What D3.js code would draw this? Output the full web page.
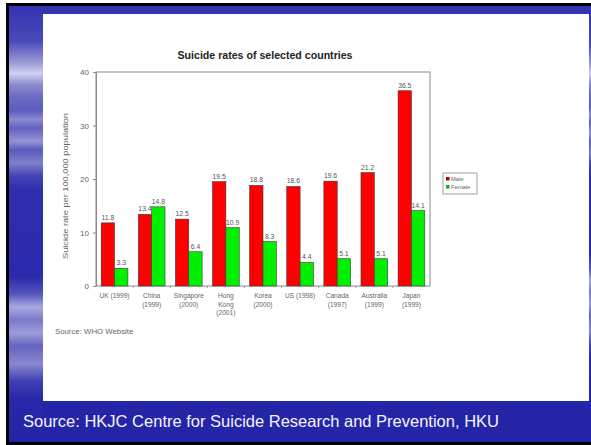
<!DOCTYPE html>
<html><head><meta charset="utf-8">
<script src="https://cdn.jsdelivr.net/npm/d3@7"></script>
<style>html,body{margin:0;padding:0;background:#fff;}svg{display:block;}</style>
</head><body>
<svg id="c" width="591" height="445"></svg>
<script>
const categories = [["UK (1999)"],["China","(1999)"],["Singapore","(2000)"],["Hong","Kong","(2001)"],["Korea","(2000)"],["US (1998)"],["Canada","(1997)"],["Australia","(1999)"],["Japan","(1999)"]];
const seriesNames = ["Male","Female"];
const maleValues = [11.8,13.4,12.5,19.5,18.8,18.6,19.6,21.2,36.5];
const femaleValues = [3.3,14.8,6.4,10.9,8.3,4.4,5.1,5.1,14.1];
const yTicks = [0,10,20,30,40];
const seriesColors = ["#ff0000","#00f000"];
const legendColors = ["#b00010","#10b020"];

const svg = d3.select("#c");
const defs = svg.append("defs");
const font = "'Liberation Sans', Arial, sans-serif";

// background frame
svg.append("rect").attr("x",0).attr("y",0).attr("width",591).attr("height",445).attr("fill","#fff");
svg.append("rect").attr("x",6).attr("y",3).attr("width",585).attr("height",442).attr("fill","#000");
const bg = defs.append("linearGradient").attr("id","bg").attr("x1",0).attr("y1",0).attr("x2",0).attr("y2",1);
[[0,"#3535b2"],[0.5,"#2a2aae"],[1,"#2424a6"]].forEach(s=>bg.append("stop").attr("offset",s[0]).attr("stop-color",s[1]));
svg.append("rect").attr("x",9).attr("y",6).attr("width",582).attr("height",436).attr("fill","url(#bg)");
// left streaky strip
const ls = defs.append("linearGradient").attr("id","ls").attr("x1",0).attr("y1",0).attr("x2",0).attr("y2",1);
const lstops = [[0,"#3232b0"],[0.08,"#4a4ab8"],[0.13,"#9a9ad8"],[0.155,"#cfcff0"],[0.18,"#8c8cd0"],[0.21,"#6a6ac4"],[0.24,"#5c5cc0"],[0.26,"#8a8ad0"],[0.28,"#6262c0"],[0.31,"#9494d6"],[0.33,"#5a5abe"],[0.36,"#8080cc"],[0.39,"#4444b6"],[0.42,"#2e2eae"],[0.62,"#2a2aac"],[0.66,"#5454bc"],[0.69,"#a8a8e0"],[0.72,"#7a7acb"],[0.75,"#9c9cda"],[0.78,"#6464c2"],[0.82,"#8888cf"],[0.86,"#4040b4"],[0.9,"#2828aa"],[1,"#2424a6"]];
lstops.forEach(s=>ls.append("stop").attr("offset",s[0]).attr("stop-color",s[1]));
svg.append("rect").attr("x",9).attr("y",6).attr("width",34).attr("height",436).attr("fill","url(#ls)");
svg.append("rect").attr("x",589).attr("y",14).attr("width",2).attr("height",386).attr("fill","url(#ls)");
// white panel
svg.append("rect").attr("x",43).attr("y",14).attr("width",546).attr("height",387).attr("fill","#fff");

// footer
svg.append("text").attr("x",23).attr("y",427).attr("fill","#f4f4ff").attr("font-family",font).attr("font-size",16.5)
  .text("Source: HKJC Centre for Suicide Research and Prevention, HKU");

// chart
const L=96,R=430,T=72,B=286;
const keys = categories.map(c=>c.join(" "));
const x0 = d3.scaleBand().domain(keys).range([L,R]).paddingInner(0.28).paddingOuter(0.14);
const x1 = d3.scaleBand().domain(seriesNames).range([0,x0.bandwidth()]);
const y = d3.scaleLinear().domain([0,40]).range([B,T]);

svg.append("text").attr("x",(L+R)/2+2).attr("y",59).attr("text-anchor","middle").attr("font-family",font)
  .attr("font-weight","bold").attr("font-size",10.5).attr("fill","#222").attr("textLength",175).attr("lengthAdjust","spacingAndGlyphs")
  .text("Suicide rates of selected countries");

svg.append("rect").attr("x",L).attr("y",T).attr("width",R-L).attr("height",B-T).attr("fill","none").attr("stroke","#8a8a8a").attr("stroke-width",1);

const yAxis = svg.append("g").attr("transform",`translate(${L},0)`).call(d3.axisLeft(y).tickValues(yTicks).tickSize(3).tickPadding(4));
yAxis.select(".domain").attr("stroke","#8a8a8a");
yAxis.selectAll(".tick line").attr("stroke","#8a8a8a");
yAxis.selectAll("text").attr("font-family",font).attr("font-size",8).attr("fill","#666");

svg.append("text").attr("transform","translate(68,186) rotate(-90)").attr("text-anchor","middle").attr("font-family",font)
  .attr("font-size",7.5).attr("fill","#666").attr("textLength",146).attr("lengthAdjust","spacingAndGlyphs")
  .text("Suicide rate per 100,000 population");

// x ticks between categories
const sep = d3.range(1,categories.length).map(i=>L+ (R-L)*i/categories.length);
svg.append("g").selectAll("line").data(sep).join("line").attr("x1",d=>d).attr("x2",d=>d).attr("y1",B).attr("y2",B+2).attr("stroke","#999");

const data = keys.map((k,i)=>({k, vals:[maleValues[i],femaleValues[i]]}));
const groups = svg.append("g").selectAll("g").data(data).join("g").attr("transform",d=>`translate(${x0(d.k)},0)`);
groups.selectAll("rect").data(d=>d.vals.map((v,j)=>({s:seriesNames[j],v,j}))).join("rect")
  .attr("x",d=>x1(d.s)).attr("y",d=>y(d.v)).attr("width",x1.bandwidth()).attr("height",d=>y(0)-y(d.v))
  .attr("fill",d=>seriesColors[d.j]).attr("stroke","#3a3a3a").attr("stroke-width",0.6);
groups.selectAll("text").data(d=>d.vals.map((v,j)=>({s:seriesNames[j],v,j}))).join("text")
  .attr("x",d=>x1(d.s)+x1.bandwidth()/2).attr("y",d=>y(d.v)-3).attr("text-anchor","middle")
  .attr("font-family",font).attr("font-size",6.8).attr("fill","#555").text(d=>d.v.toFixed(1));

// category labels
const cl = svg.append("g").selectAll("text").data(categories).join("text")
  .attr("x",(d,i)=>x0(keys[i])+x0.bandwidth()/2).attr("y",298).attr("text-anchor","middle")
  .attr("font-family",font).attr("font-size",6.6).attr("fill","#666");
cl.selectAll("tspan").data(d=>d).join("tspan").attr("x",function(){return this.parentNode.getAttribute("x");})
  .attr("dy",(d,i)=>i===0?0:8.5).text(d=>d);

svg.append("text").attr("x",55).attr("y",334).attr("font-family",font).attr("font-size",7.8).attr("fill","#666").text("Source: WHO Website");

// legend
const lg = svg.append("g");
lg.append("rect").attr("x",443).attr("y",173).attr("width",34).attr("height",21).attr("fill","#fff").attr("stroke","#888").attr("stroke-width",0.8);
seriesNames.forEach((s,i)=>{
  lg.append("rect").attr("x",446).attr("y",177+i*8).attr("width",3.5).attr("height",3.5).attr("fill",legendColors[i]);
  lg.append("text").attr("x",451).attr("y",181+i*8).attr("font-family",font).attr("font-size",5.8).attr("fill","#666").text(s);
});
</script>
</body></html>
